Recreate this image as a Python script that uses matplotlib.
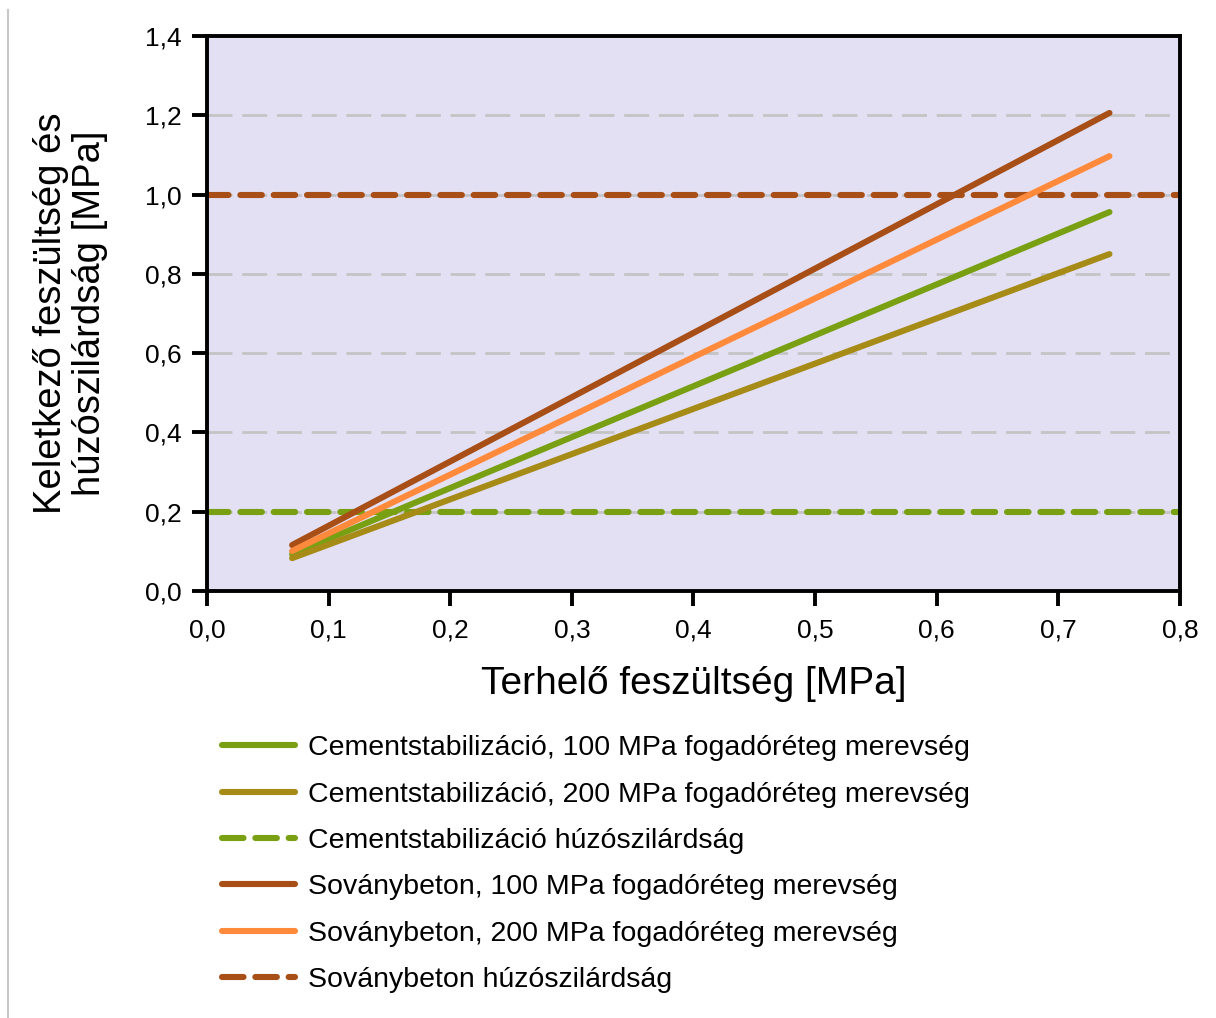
import matplotlib
matplotlib.use("Agg")
import matplotlib.pyplot as plt
from matplotlib.lines import Line2D

plt.rcParams['font.family'] = ['Liberation Sans', 'DejaVu Sans']
plt.rcParams['lines.scale_dashes'] = False

# Load range (MPa) and resulting stresses at the two ends of each line
terhelo = [0.070, 0.742]
cement_100 = [0.093, 0.956]
cement_200 = [0.083, 0.850]
sovany_100 = [0.116, 1.206]
sovany_200 = [0.101, 1.097]

# Tensile strengths (MPa)
cement_huzo = 0.20
sovany_huzo = 1.00

labels = [
    "Cementstabilizáció, 100 MPa fogadóréteg merevség",
    "Cementstabilizáció, 200 MPa fogadóréteg merevség",
    "Cementstabilizáció húzószilárdság",
    "Soványbeton, 100 MPa fogadóréteg merevség",
    "Soványbeton, 200 MPa fogadóréteg merevség",
    "Soványbeton húzószilárdság",
]
x_ticks = [0.0, 0.1, 0.2, 0.3, 0.4, 0.5, 0.6, 0.7, 0.8]
y_ticks = [0.0, 0.2, 0.4, 0.6, 0.8, 1.0, 1.2, 1.4]

c_green = "#78A012"
c_olive = "#A68B17"
c_brown = "#A84E17"
c_orange = "#FF8A3C"

fig = plt.figure(figsize=(12.16, 10.18), dpi=100)
ax = fig.add_axes([0.1702, 0.4194, 0.8002, 0.5452])
ax.set_facecolor("#E3E0F3")

lw = 4.4
dash = (0, (15.5, 8.5))

# gray figure border line on the left
fig.add_artist(Line2D([0.0066, 0.0066], [0.0, 0.99], color="#C8C8C8", lw=1.5,
                      transform=fig.transFigure))

for y in y_ticks[1:-1]:
    ax.axhline(y, color="#C4C4C4", lw=2.0, ls=(0, (18, 7)), zorder=1)

l1, = ax.plot(terhelo, cement_100, color=c_green, lw=lw, zorder=3)
l2, = ax.plot(terhelo, cement_200, color=c_olive, lw=lw, zorder=3)
l3, = ax.plot([0, 0.8], [cement_huzo] * 2, color=c_green, lw=lw, ls=dash,
              dash_capstyle="round", zorder=2)
l4, = ax.plot(terhelo, sovany_100, color=c_brown, lw=lw, zorder=3)
l5, = ax.plot(terhelo, sovany_200, color=c_orange, lw=lw, zorder=3)
l6, = ax.plot([0, 0.8], [sovany_huzo] * 2, color=c_brown, lw=lw, ls=dash,
              dash_capstyle="round", zorder=2)
for ln in (l1, l2, l4, l5):
    ln.set_solid_capstyle("round")

ax.set_xlim(0, 0.8)
ax.set_ylim(0, 1.4)
ax.set_xticks(x_ticks)
ax.set_yticks(y_ticks)
ax.set_xticklabels([f"{v:.1f}".replace(".", ",") for v in x_ticks])
ax.set_yticklabels([f"{v:.1f}".replace(".", ",") for v in y_ticks])
ax.tick_params(axis="both", direction="out", length=10.5, width=2.8,
               labelsize=19, colors="black")
ax.tick_params(axis="x", pad=9)
ax.tick_params(axis="y", pad=8)
for sp in ax.spines.values():
    sp.set_linewidth(2.8)
    sp.set_color("black")

ax.set_xlabel("Terhelő feszültség [MPa]", fontsize=28, labelpad=17)
ax.set_ylabel("Keletkező feszültség és\nhúzószilárdság [MPa]", fontsize=27.5,
              labelpad=26, linespacing=1.12)

leg = fig.legend([l1, l2, l3, l4, l5, l6], labels, loc="upper left",
                 bbox_to_anchor=(0.1732, 0.2889), frameon=False, fontsize=20.5,
                 handlelength=2.56, handletextpad=0.46, labelspacing=0.715,
                 borderaxespad=0)
for h in leg.legend_handles:
    h.set_solid_capstyle("round")
    h.set_dash_capstyle("round")

fig.savefig("out.png", dpi=100)
